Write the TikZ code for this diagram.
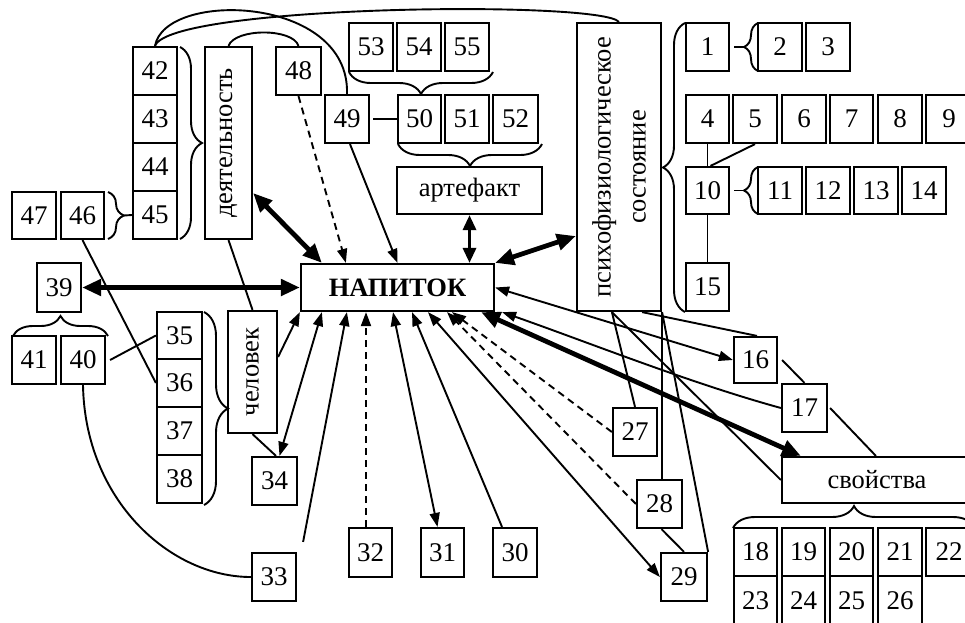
\documentclass[tikz,border=0pt]{standalone}
\usepackage{fontspec}
\setmainfont{Liberation Serif}
\newfontfamily\numf{Liberation Serif}
\usetikzlibrary{arrows.meta,decorations.pathreplacing,calc}
\newcommand{\mybox}[6]{\node[bx, minimum width={(#4-#2)*1pt}, minimum height={(#5-#3)*1pt}] (#1) at ({(#2+#4)/2},{(#3+#5)/2}) {#6};}
\newcommand{\labf}{\rmfamily\fontsize{26.5}{30}\selectfont}
\newcommand{\rotf}{\rmfamily\fontsize{26.5}{35}\selectfont}
\tikzset{
  bx/.style={draw, line width=2.2pt, inner sep=0pt, font=\fontsize{27}{27}\selectfont\numf},
  thin/.style={line width=1.9pt},
  ar/.style={thin, -{Triangle[length=14pt,width=10pt]}},
  dar/.style={thin, {Triangle[length=14pt,width=10pt]}-{Triangle[length=14pt,width=10pt]}},
  thk/.style={line width=4.8pt, {Triangle[length=19pt,width=16pt]}-{Triangle[length=19pt,width=16pt]}},
  med/.style={line width=3.2pt, {Triangle[length=15pt,width=13pt]}-{Triangle[length=15pt,width=13pt]}},
  dsh/.style={ar, dash pattern=on 7pt off 5pt},
  brc/.style={decorate, decoration={brace, amplitude=#1}, line width=1.9pt},
  rot/.style={rotate=90, inner sep=0pt, font=\rotf, align=center}
}
\begin{document}
\begin{tikzpicture}[x=1pt,y=-1pt]
\path[use as bounding box] (0,0) rectangle (965,622);
\clip (0,0) rectangle (965,622);
% left column
\mybox{n42}{133}{47}{177}{95}{42}
\mybox{n43}{133}{95}{177}{143}{43}
\mybox{n44}{133}{143}{177}{191}{44}
\mybox{n45}{133}{191}{177}{239}{45}
\mybox{dey}{205}{47}{252}{239}{}
\node[rot] (deyt) at (dey) {деятельность};
\mybox{n48}{276}{47}{321}{95}{48}
\mybox{n47}{12}{192}{56}{239}{47}
\mybox{n46}{61}{192}{104}{239}{46}
\mybox{n39}{37}{263}{81}{312}{39}
\mybox{n41}{12}{336}{56}{384}{41}
\mybox{n40}{61}{336}{105}{384}{40}
\mybox{n35}{157}{312}{202}{359}{35}
\mybox{n36}{157}{359}{202}{407}{36}
\mybox{n37}{157}{407}{202}{455}{37}
\mybox{n38}{157}{455}{202}{503}{38}
\mybox{chel}{228}{311}{277}{433}{}
\node[rot] (chelt) at (chel) {человек};
\mybox{n34}{252}{457}{297}{505}{34}
\mybox{n33}{252}{553}{296}{601}{33}
% centre
\mybox{nap}{301}{264}{494}{311}{\labf\bfseries НАПИТОК}
\mybox{n32}{349}{528}{392}{577}{32}
\mybox{n31}{421}{528}{464}{577}{31}
\mybox{n30}{493}{528}{537}{577}{30}
\mybox{n53}{349}{23}{393}{71}{53}
\mybox{n54}{397}{23}{441}{71}{54}
\mybox{n55}{445}{23}{489}{71}{55}
\mybox{n49}{325}{95}{369}{143}{49}
\mybox{n50}{398}{95}{441}{143}{50}
\mybox{n51}{445}{95}{489}{143}{51}
\mybox{n52}{493}{95}{538}{143}{52}
\mybox{art}{397}{167}{542}{214}{\labf артефакт}
\mybox{psy}{577}{23}{661}{311}{}
\node[rot] (psyt) at (psy) {психофизиологическое\\состояние};
% right cluster
\mybox{n1}{686}{23}{729}{71}{1}
\mybox{n2}{758}{23}{802}{71}{2}
\mybox{n3}{806}{23}{850}{71}{3}
\mybox{n4}{686}{95}{729}{143}{4}
\mybox{n5}{733}{95}{777}{143}{5}
\mybox{n6}{782}{95}{826}{143}{6}
\mybox{n7}{830}{95}{873}{143}{7}
\mybox{n8}{878}{95}{922}{143}{8}
\mybox{n9}{926}{95}{972}{143}{9}
\mybox{n10}{686}{167}{729}{214}{10}
\mybox{n11}{758}{167}{802}{214}{11}
\mybox{n12}{806}{167}{850}{214}{12}
\mybox{n13}{854}{167}{898}{214}{13}
\mybox{n14}{902}{167}{946}{214}{14}
\mybox{n15}{686}{263}{729}{311}{15}
\mybox{n16}{734}{337}{777}{383}{16}
\mybox{n17}{782}{384}{827}{432}{17}
\mybox{n27}{613}{408}{657}{456}{27}
\mybox{n28}{637}{480}{682}{528}{28}
\mybox{n29}{661}{553}{707}{601}{29}
\mybox{svo}{782}{457}{972}{503}{\labf свойства}
\mybox{n18}{734}{528}{777}{576}{18}
\mybox{n19}{782}{528}{825}{576}{19}
\mybox{n20}{830}{528}{873}{576}{20}
\mybox{n21}{878}{528}{922}{576}{21}
\mybox{n22}{926}{528}{972}{576}{22}
\mybox{n23}{734}{576}{777}{626}{23}
\mybox{n24}{782}{576}{825}{626}{24}
\mybox{n25}{830}{576}{873}{626}{25}
\mybox{n26}{878}{576}{922}{626}{26}
% arrows into НАПИТОК
\draw[thk] ([yshift=-50pt]dey.east) -- ([xshift=22pt]nap.north west);
\draw[dsh] (n48.south) -- ([xshift=46pt]nap.north west);
\draw[ar] ([xshift=3pt]n49.south) -- (nap.north);
\draw[med] (art.south) -- (art.south |- nap.north);
\draw[thk] ([yshift=-69pt]psy.west) -- (nap.north east);
\draw[thk] (n39.east) -- (nap.west);
\draw[ar] ([yshift=15pt]chel.east) -- (nap.south west);
\draw[dar] ([xshift=5pt]n34.north) -- ([xshift=22pt]nap.south west);
\draw[ar] ([shift={(6pt,10pt)}]n33.north east) -- ([xshift=47pt]nap.south west);
\draw[dsh] ([xshift=-4.5pt]n32.north) -- ([xshift=-4.5pt]n32.north |- nap.south);
\draw[dar] ([xshift=-4.5pt]nap.south) -- ([xshift=-5pt]n31.north);
\draw[ar] ([xshift=-13pt]n30.north) -- ([xshift=14.5pt]nap.south);
\draw[dar] ([xshift=30.5pt]nap.south) -- (n29.west);
\draw[dsh] (n27.west) -- ([xshift=54.5pt]nap.south);
\draw[dsh] (n28.west) -- ([xshift=49.5pt]nap.south);
\draw[dar] (nap.east) -- (n16.west);
\draw[ar] (n17.west) .. controls (690,383) and (590,343) .. ([xshift=7pt]nap.south east);
\draw[thk] ([xshift=-14pt]nap.south east) -- ([xshift=20pt]svo.north west);
% lines from psy
\draw[thin] ([xshift=36pt]psy.south west) -- (n27.north);
\draw[thin] ([xshift=36pt]psy.south west) -- (svo.west);
\draw[thin] ([xshift=-20pt]psy.south east) -- ([xshift=1.5pt]n16.north);
\draw[thin] (psy.south east) -- (psy.south east |- n28.north);
\draw[thin] (psy.south east) -- (n29.north east);
\draw[thin] ([xshift=2pt]n28.south) -- (n29.north);
\draw[thin] ([xshift=4pt]n16.east) -- (n17.north);
\draw[thin] ([xshift=2pt]n17.east) -- ([xshift=95pt]svo.north west);
% right cluster lines
\draw[thin] (n4.south) -- (n10.north);
\draw[thin] (n5.south) -- ([xshift=3pt]n10.north);
\draw[thin] (n10.south) -- (n15.north);
\draw[thin] ([xshift=4pt]n1.east) -- (744,47);
\draw[brc=14pt] (758,71) -- (758,23);
\draw[thin] ([xshift=4pt]n10.east) -- (744,190.5);
\draw[brc=14pt] (758,214) -- (758,167);
% top
\draw[thin] ([xshift=3pt]n49.east) -- (n50.west);
\draw[thin] (n42.north) .. controls (165,-10) and (350,-5) .. (n49.north);
\draw[thin] (n42.north) .. controls (170,5) and (600,0) .. (psy.north);
\draw[thin] (dey.north) .. controls (235,28) and (293,28) .. (n48.north);
% left lines
\draw[thin] ([xshift=4pt]n40.east) -- (n35.west);
\draw[thin] (n46.south) -- (n36.west);
\draw[thin] (dey.south) -- (chel.north);
\draw[thin] (chel.south) -- ([xshift=1.5pt]n34.north);
\draw[thin] (n40.south) .. controls (85,500) and (170,577) .. (n33.west);
% braces
\draw[brc=22pt] (180,47) -- (180,239);
\draw[brc=16pt] (108,192) -- (108,239);
\draw[thin] (124,215.5) -- (n45.west);
\draw[brc=20pt] (13,336) -- (108,336);
\draw[brc=24pt] (204,312) -- (204,505);
\draw[brc=22pt] (493,72) -- (349,72);
\draw[brc=22pt] (542,144) -- (398,144);
\draw[brc=22pt] (685,312) -- (685,23);
\draw[brc=22pt] (733,528) -- (975,528);
\end{tikzpicture}
\end{document}
